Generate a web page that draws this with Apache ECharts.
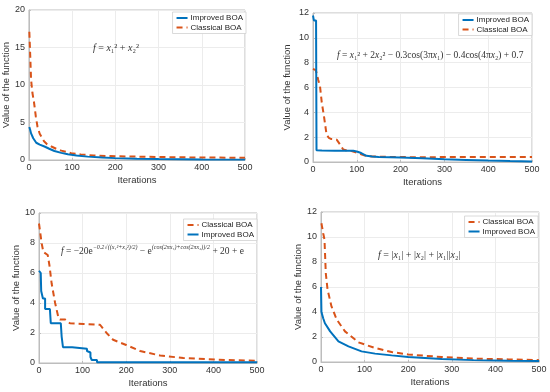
<!DOCTYPE html>
<html><head><meta charset="utf-8">
<script src="https://cdn.jsdelivr.net/npm/echarts@6/dist/echarts.min.js"></script>
<style>html,body{margin:0;padding:0;background:#fff}#c{width:550px;height:392px}</style>
</head><body><div id="c"></div>
<script>
// Panel 1: f = x1^2 + x2^2
const p1ImpX = [1,3,5,10,17,25,36,47,59,75,90,110,136,170,200,250,300,400,500];
const p1ImpY = [4.4,4.0,3.55,2.9,2.3,2.05,1.8,1.5,1.2,0.95,0.76,0.6,0.45,0.32,0.25,0.17,0.12,0.08,0.05];
const p1ClaX = [1,3,5,8,12,16,20,25,29,35,42,52,63,75,98,120,150,200,250,300,400,500];
const p1ClaY = [17.1,14,10.7,9,7.6,5.8,4.4,3.5,3.1,2.5,2.1,1.8,1.5,1.25,0.9,0.75,0.6,0.5,0.45,0.4,0.33,0.3];
// Panel 2
const p2ImpX = [0,2,7,8,20,50,92,100,110,122,135,150,200,250,300,350,400,450,500];
const p2ImpY = [11.8,11.4,11.4,0.95,0.92,0.9,0.9,0.85,0.72,0.5,0.45,0.4,0.37,0.3,0.22,0.17,0.12,0.08,0.05];
const p2ClaX = [0,6,8,12,16,20,25,31,36,42,54,60,69,80,88,100,110,120,135,150,200,250,300,400,500];
const p2ClaY = [7.5,7.4,7.2,6.6,6.1,4.8,3.7,2.2,1.95,1.85,1.8,1.5,1.0,0.9,0.88,0.75,0.62,0.5,0.45,0.42,0.4,0.38,0.4,0.4,0.4];
// Panel 3
const p3ClaX = [0,6,10,20,24,29,37,44,48,60,71,102,140,155,170,200,232,278,331,407,500];
const p3ClaY = [9.3,8.0,7.4,7.2,6.5,5.3,4.0,3.1,2.9,2.9,2.65,2.6,2.55,2.0,1.55,1.2,0.8,0.5,0.33,0.22,0.15];
const p3ImpX = [0,4,5,9,14,25,27,50,52,55,76,110,114,118,121,133,500];
const p3ImpY = [6.15,6.0,4.8,4.3,3.6,3.6,2.65,2.65,1.75,1.05,0.95,0.8,0.7,0.4,0.2,0.05,0.05];
// Panel 4
const p4ClaX = [1,5,8,11,15,24,36,55,86,124,162,200,277,353,430,500];
const p4ClaY = [11.1,10.3,9.8,7.1,5.8,4.45,3.4,2.45,1.57,1.12,0.8,0.6,0.4,0.27,0.21,0.15];
const p4ImpX = [0,1,5,9,21,40,63,93,124,162,200,277,350,430,500];
const p4ImpY = [6.0,4.0,3.5,3.1,2.45,1.65,1.25,0.85,0.67,0.53,0.4,0.24,0.15,0.1,0.08];

const yMax = [20,12,10,12];
const yStep = [5,2,2,2];
const grids = [
  {left:27, top:10, width:218, height:150},
  {left:313, top:13, width:219, height:149},
  {left:39, top:213, width:218, height:150},
  {left:321, top:212, width:218, height:150}
];
const yNameGap = [11,21,12,12];

const BLUE = '#0072BD', ORANGE = '#D95319';
const zip = (a,b)=>a.map((v,i)=>[v,b[i]]);
const font = 'Liberation Sans';

const xAxes = grids.map((g,i)=>({
  type:'value', gridIndex:i, min:0, max:500, interval:100,
  name:'Iterations', nameLocation:'middle', nameGap:15,
  nameTextStyle:{fontFamily:font, fontSize:9.5, color:'#333'},
  axisLine:{show:true, onZero:false, lineStyle:{color:'#bdbdbd'}},
  axisTick:{show:true, inside:true, length:2, lineStyle:{color:'#bdbdbd'}},
  axisLabel:{fontFamily:font, fontSize:9, color:'#333', margin:3},
  splitLine:{show:true, lineStyle:{color:'#ececec'}}
}));
const yAxes = grids.map((g,i)=>({
  type:'value', gridIndex:i, min:0, max:yMax[i], interval:yStep[i],
  name:'Value of the function', nameLocation:'middle', nameGap:yNameGap[i],
  nameTextStyle:{fontFamily:font, fontSize:9.5, color:'#333'},
  axisLine:{show:true, onZero:false, lineStyle:{color:'#bdbdbd'}},
  axisTick:{show:true, inside:true, length:2, lineStyle:{color:'#bdbdbd'}},
  axisLabel:{fontFamily:font, fontSize:9, color:'#333', margin:4},
  splitLine:{show:true, lineStyle:{color:'#ececec'}}
}));

function imp(i, x, y, step){
  return {name:'Improved BOA', type:'line', xAxisIndex:i, yAxisIndex:i, symbol:'none',
    step: step||false, data: zip(x,y), lineStyle:{color:BLUE, width:2}, itemStyle:{color:BLUE}, z:3};
}
function cla(i, x, y){
  return {name:'Classical BOA', type:'line', xAxisIndex:i, yAxisIndex:i, symbol:'none',
    data: zip(x,y), lineStyle:{color:ORANGE, width:2, type:[6,4]}, itemStyle:{color:ORANGE}, z:2};
}

function legend(right, top, names){
  return {orient:'vertical', right:right, top:top, data:names, itemWidth:11, itemHeight:8, itemGap:1.5,
    padding:[2,3,2,3], backgroundColor:'#fff', borderColor:'#d0d0d0', borderWidth:0.8,
    itemStyle:{opacity:0},
    textStyle:{fontFamily:font, fontSize:8, color:'#222', padding:[0,0,0,-2]}, selectedMode:false};
}

const rich = {
  i:{fontFamily:'Liberation Serif', fontStyle:'italic', fontSize:10, color:'#333'},
  n:{fontFamily:'Liberation Serif', fontSize:10, color:'#333'},
  j:{fontFamily:'Liberation Serif', fontStyle:'italic', fontSize:9.5, color:'#333'},
  m:{fontFamily:'Liberation Serif', fontSize:9.5, color:'#333'},
  s:{fontFamily:'Liberation Serif', fontStyle:'italic', fontSize:6, color:'#333', verticalAlign:'top', lineHeight:14, padding:[0,0,6,0]}
};
function formula(x, y, txt){
  return {type:'text', left:x, top:y, z:100, style:{text:txt, rich:rich, fill:'#333',
    font:'10px Liberation Serif'}};
}

const option = {
  animation:false,
  grid: grids.map(g=>Object.assign({show:true, borderColor:'#bdbdbd', borderWidth:1, containLabel:false}, g)),
  xAxis: xAxes, yAxis: yAxes,
  legend:[
    legend(304, 12, ['Improved BOA','Classical BOA']),
    legend(18, 14, ['Improved BOA','Classical BOA']),
    legend(293, 219, ['Classical BOA','Improved BOA']),
    legend(12, 216, ['Classical BOA','Improved BOA'])
  ],
  series:[
    imp(0,p1ImpX,p1ImpY), cla(0,p1ClaX,p1ClaY),
    imp(1,p2ImpX,p2ImpY), cla(1,p2ClaX,p2ClaY),
    cla(2,p3ClaX,p3ClaY), imp(2,p3ImpX,p3ImpY,'end'),
    cla(3,p4ClaX,p4ClaY), imp(3,p4ImpX,p4ImpY)
  ],
  graphic:[
    formula(93, 43, '{i|f}{n| = }{i|x}{n|₁² + }{i|x}{n|₂²}'),
    formula(337, 50, '{j|f}{m| = }{j|x}{m|₁² + 2}{j|x}{m|₂² − 0.3cos(3π}{j|x}{m|₁) − 0.4cos(4π}{j|x}{m|₂) + 0.7}'),
    formula(61, 244, '{j|f}{m| = −20e}{s|−0.2√((x₁²+x₂²)/2)}{m| − e}{s|(cos(2πx₁)+cos(2πx₂))/2}{m| + 20 + e}'),
    formula(378, 250, '{i|f}{n| = |}{i|x}{n|₁| + |}{i|x}{n|₂| + |}{i|x}{n|₁||}{i|x}{n|₂|}')
  ]
};
const chart = echarts.init(document.getElementById('c'), null, {renderer:'canvas'});
chart.setOption(option);
</script></body></html>
